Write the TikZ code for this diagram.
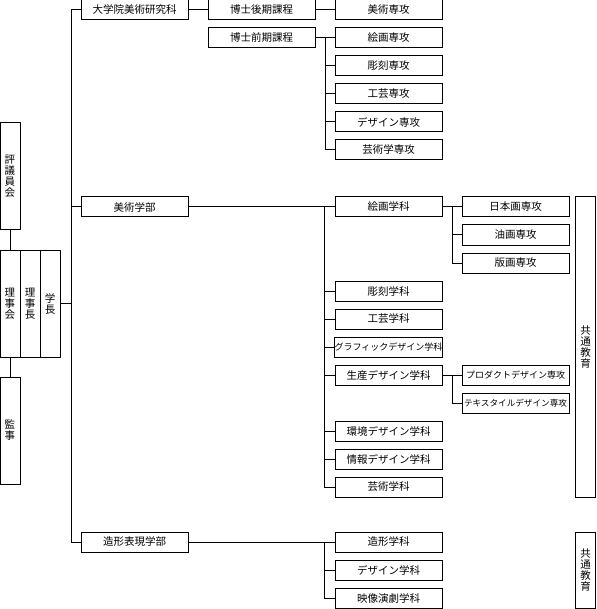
\documentclass[tikz,border=0pt]{standalone}
\usepackage{fontspec}
\setmainfont{Noto Sans CJK JP}
\begin{document}
\begin{tikzpicture}[x=1pt,y=-1pt,
	box/.style={draw, line width=1pt, minimum width=107pt, minimum height=20pt, inner sep=0pt, font=\fontsize{10.5}{11}\selectfont},
	vbox/.style={draw, line width=1pt, minimum width=20pt, inner sep=0pt, align=center, font=\fontsize{10.5}{11}\selectfont},
	small/.style={font=\fontsize{9}{10}\selectfont},
	link/.style={line width=1pt}]
		\useasboundingbox (0,0) rectangle (596,609);

		\node[vbox, minimum height=107pt] (hyogi) at (10,176.5) {評\\議\\員\\会};
		\node[vbox, minimum height=107pt] (rijikai) at (10,303.5) {理\\事\\会};
		\node[vbox, minimum height=107pt] (rijicho) at (30,303.5) {理\\事\\長};
		\node[vbox, minimum height=107pt] (gakucho) at (50,303.5) {学\\長};
		\node[vbox, minimum height=107pt] (kanji) at (10,430.5) {監\\事};

		\node[box] (daigakuin) at (134.5,10) {大学院美術研究科};
		\node[box] (bijutsu) at (134.5,207) {美術学部};
		\node[box] (zokei) at (134.5,542) {造形表現学部};

		\node[box] (koki) at (261.5,10) {博士後期課程};
		\node[box] (zenki) at (261.5,38) {博士前期課程};

		\node[box] (bijutsusenko) at (388.5,10) {美術専攻};
		\node[box] (kaigasenko) at (388.5,38) {絵画専攻};
		\node[box] (chokokusenko) at (388.5,66) {彫刻専攻};
		\node[box] (kogeisenko) at (388.5,94) {工芸専攻};
		\node[box] (designsenko) at (388.5,122) {デザイン専攻};
		\node[box] (geijutsusenko) at (388.5,150) {芸術学専攻};

		\node[box] (kaiga) at (388.5,207) {絵画学科};
		\node[box] (chokoku) at (388.5,291) {彫刻学科};
		\node[box] (kogei) at (388.5,319) {工芸学科};
		\node[box, small] (graphic) at (388.5,347) {グラフィックデザイン学科};
		\node[box] (seisan) at (388.5,375) {生産デザイン学科};
		\node[box] (kankyo) at (388.5,431) {環境デザイン学科};
		\node[box] (joho) at (388.5,459) {情報デザイン学科};
		\node[box] (geijutsu) at (388.5,487) {芸術学科};

		\node[box] (nihonga) at (515.5,207) {日本画専攻};
		\node[box] (yuga) at (515.5,235) {油画専攻};
		\node[box] (hanga) at (515.5,263) {版画専攻};
		\node[box, small] (product) at (515.5,375) {プロダクトデザイン専攻};
		\node[box, font=\fontsize{8.6}{10}\selectfont] (textile) at (515.5,403) {テキスタイルデザイン専攻};

		\node[box] (zokeigaku) at (388.5,542) {造形学科};
		\node[box] (design) at (388.5,570) {デザイン学科};
		\node[box] (eizo) at (388.5,598) {映像演劇学科};

		\node[vbox, minimum height=300pt] (kyotsu) at (585.5,347) {共\\通\\教\\育};
		\node[vbox, minimum height=76pt] (kyotsuzokei) at (585.5,570) {共\\通\\教\\育};

		\draw[link] (hyogi) -- (rijikai);
		\draw[link] (rijikai) -- (kanji);

		\draw[link] (gakucho.east) -- ++(11,0) coordinate (trunk);
		\draw[link] (trunk) |- (daigakuin.west);
		\draw[link] (trunk) |- (bijutsu.west);
		\draw[link] (trunk) |- (zokei.west);

		\draw[link] (daigakuin) -- (koki);
		\draw[link] (koki) -- (bijutsusenko);
		\draw[link] (zenki) -- (kaigasenko);
		\coordinate (jzenki) at ([xshift=10pt]zenki.east);
		\draw[link] (jzenki) |- (chokokusenko.west);
		\draw[link] (jzenki) |- (kogeisenko.west);
		\draw[link] (jzenki) |- (designsenko.west);
		\draw[link] (jzenki) |- (geijutsusenko.west);

		\draw[link] (bijutsu) -- (kaiga);
		\coordinate (jbijutsu) at ([xshift=-10pt]kaiga.west);
		\draw[link] (jbijutsu) |- (chokoku.west);
		\draw[link] (jbijutsu) |- (kogei.west);
		\draw[link] (jbijutsu) |- (graphic.west);
		\draw[link] (jbijutsu) |- (seisan.west);
		\draw[link] (jbijutsu) |- (kankyo.west);
		\draw[link] (jbijutsu) |- (joho.west);
		\draw[link] (jbijutsu) |- (geijutsu.west);

		\draw[link] (kaiga) -- (nihonga);
		\coordinate (jkaiga) at ([xshift=10pt]kaiga.east);
		\draw[link] (jkaiga) |- (yuga.west);
		\draw[link] (jkaiga) |- (hanga.west);

		\draw[link] (seisan) -- (product);
		\coordinate (jseisan) at ([xshift=10pt]seisan.east);
		\draw[link] (jseisan) |- (textile.west);

		\draw[link] (zokei) -- (zokeigaku);
		\coordinate (jzokei) at ([xshift=-10pt]zokeigaku.west);
		\draw[link] (jzokei) |- (design.west);
		\draw[link] (jzokei) |- (eizo.west);
	\end{tikzpicture}
\end{document}
